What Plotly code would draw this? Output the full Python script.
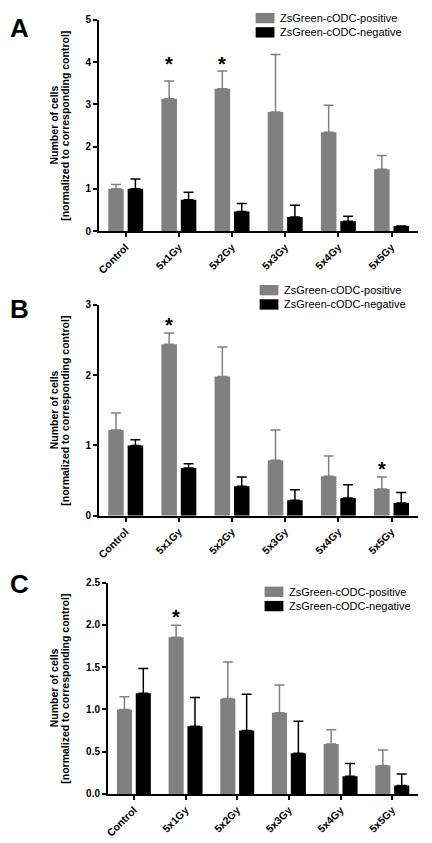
import plotly.graph_objects as go

categories = ["Control", "5x1Gy", "5x2Gy", "5x3Gy", "5x4Gy", "5x5Gy"]
series_names = ["ZsGreen-cODC-positive", "ZsGreen-cODC-negative"]

# Panel A
a_pos = [1.00, 3.13, 3.37, 2.82, 2.34, 1.46]
a_pos_err = [0.10, 0.42, 0.42, 1.36, 0.64, 0.33]
a_neg = [1.00, 0.74, 0.46, 0.33, 0.23, 0.12]
a_neg_err = [0.23, 0.18, 0.19, 0.28, 0.12, 0.0]
a_star_cats = ["5x1Gy", "5x2Gy"]
a_star_y = [4.08, 4.08]

# Panel B
b_pos = [1.22, 2.44, 1.98, 0.79, 0.56, 0.38]
b_pos_err = [0.24, 0.16, 0.42, 0.43, 0.29, 0.17]
b_neg = [1.00, 0.68, 0.42, 0.22, 0.25, 0.18]
b_neg_err = [0.08, 0.06, 0.13, 0.15, 0.19, 0.15]
b_star_cats = ["5x1Gy", "5x5Gy"]
b_star_y = [2.79, 0.73]

# Panel C
c_pos = [1.00, 1.855, 1.13, 0.96, 0.59, 0.335]
c_pos_err = [0.15, 0.14, 0.43, 0.33, 0.17, 0.185]
c_neg = [1.19, 0.80, 0.75, 0.48, 0.21, 0.10]
c_neg_err = [0.295, 0.34, 0.43, 0.38, 0.15, 0.135]
c_star_cats = ["5x1Gy"]
c_star_y = [2.15]

panel_letters = ["A", "B", "C"]
y_title_1 = "Number of cells"
y_title_2 = "[normalized to corresponding control]"

W, H = 432, 843
GRAY = "#808080"
BLACK = "#000000"
FONT = "Liberation Sans, Arial, sans-serif"

def fx(px):
    return px / W

def fy(py):
    return 1 - py / H

panels = [
    dict(pos=a_pos, pos_err=a_pos_err, neg=a_neg, neg_err=a_neg_err,
         stars=(a_star_cats, a_star_y), x0=96, x1=418, top=14, bot=228.3,
         yrange=[0, 5], dtick=1, fmt="d", legend_xy=(254, 7), letter_y=22.5),
    dict(pos=b_pos, pos_err=b_pos_err, neg=b_neg, neg_err=b_neg_err,
         stars=(b_star_cats, b_star_y), x0=96, x1=418, top=303.3, bot=517,
         yrange=[0, 3], dtick=1, fmt="d", legend_xy=(258, 283), letter_y=307.5),
    dict(pos=c_pos, pos_err=c_pos_err, neg=c_neg, neg_err=c_neg_err,
         stars=(c_star_cats, c_star_y), x0=105, x1=418, top=585, bot=799.3,
         yrange=[0, 2.5], dtick=0.5, fmt=".1f", legend_xy=(263, 589), letter_y=586),
]

fig = go.Figure()
annotations = []
shapes = []
layout_extra = {}

for i, p in enumerate(panels):
    n = i + 1
    xa = "x" if n == 1 else f"x{n}"
    ya = "y" if n == 1 else f"y{n}"
    fig.add_trace(go.Bar(
        x=categories, y=p["pos"], name=series_names[0], marker_color=GRAY,
        marker_line_width=0, xaxis=xa, yaxis=ya, showlegend=False,
        error_y=dict(type="data", symmetric=False, array=p["pos_err"],
                     arrayminus=[0] * 6, color=GRAY, thickness=1.5, width=5),
    ))
    fig.add_trace(go.Bar(
        x=categories, y=p["neg"], name=series_names[1], marker_color=BLACK,
        marker_line_width=0, xaxis=xa, yaxis=ya, showlegend=False,
        error_y=dict(type="data", symmetric=False, array=p["neg_err"],
                     arrayminus=[0] * 6, color=BLACK, thickness=1.5, width=5),
    ))
    xkey = "xaxis" if n == 1 else f"xaxis{n}"
    ykey = "yaxis" if n == 1 else f"yaxis{n}"
    layout_extra[xkey] = dict(
        domain=[fx(p["x0"]), fx(p["x1"])], anchor=ya, type="category",
        showline=True, linecolor="black", linewidth=2, ticks="outside",
        ticklen=4, tickwidth=1.5, tickcolor="black", tickangle=-45,
        tickfont=dict(family=FONT, size=10.5, color="black", weight="bold"),
        showgrid=False, zeroline=False,
    )
    layout_extra[ykey] = dict(
        domain=[fy(p["bot"]), fy(p["top"])], anchor=xa, range=p["yrange"],
        dtick=p["dtick"], tick0=0, tickformat=p["fmt"],
        showline=True, linecolor="black", linewidth=2, ticks="outside",
        ticklen=4, tickwidth=1.5, tickcolor="black",
        tickfont=dict(family=FONT, size=10, color="black", weight="bold"),
        showgrid=False, zeroline=False,
    )
    # legend (swatch + label per series)
    lx, ly = p["legend_xy"]
    for k, (nm, col) in enumerate(zip(series_names, [GRAY, BLACK])):
        top = ly + k * 14.5
        shapes.append(dict(
            type="rect", xref="paper", yref="paper",
            x0=fx(lx), x1=fx(lx + 19), y0=fy(top + 10.5), y1=fy(top),
            fillcolor=col, line=dict(width=0),
        ))
        annotations.append(dict(
            x=fx(lx + 23), y=fy(top + 5.25), xref="paper", yref="paper",
            text=nm, showarrow=False, xanchor="left", yanchor="middle",
            font=dict(family=FONT, size=11, color="black"),
        ))
    # stars
    for cat, yv in zip(*p["stars"]):
        annotations.append(dict(
            x=cat, y=yv, xref=xa, yref=ya, text="*", showarrow=False,
            xshift=-10, yshift=-5, yanchor="middle",
            font=dict(family=FONT, size=20, color="black", weight="bold"),
        ))
    # panel letter
    annotations.append(dict(
        x=fx(4), y=fy(p["letter_y"]), xref="paper", yref="paper",
        text=panel_letters[i], showarrow=False, xanchor="left", yanchor="middle",
        font=dict(family=FONT, size=26, color="black", weight="bold"),
    ))
    # y titles
    yc = fy((p["top"] + p["bot"]) / 2)
    for txt, xc in ((y_title_1, 50.5), (y_title_2, 62)):
        annotations.append(dict(
            x=fx(xc), y=yc, xref="paper", yref="paper", text=txt,
            showarrow=False, textangle=-90, xanchor="center", yanchor="middle",
            font=dict(family=FONT, size=10.5, color="black", weight="bold"),
        ))

fig.update_layout(
    width=W, height=H, margin=dict(l=0, r=0, t=0, b=0),
    paper_bgcolor="white", plot_bgcolor="white",
    barmode="group", bargap=0.27, bargroupgap=0.2,
    annotations=annotations, shapes=shapes, showlegend=False,
    font=dict(family=FONT, color="black"),
    **layout_extra,
)

fig.write_html(
    "out.html",
    config={"displayModeBar": False},
    post_script="document.body.style.margin='0';document.body.style.overflow='hidden';",
)
